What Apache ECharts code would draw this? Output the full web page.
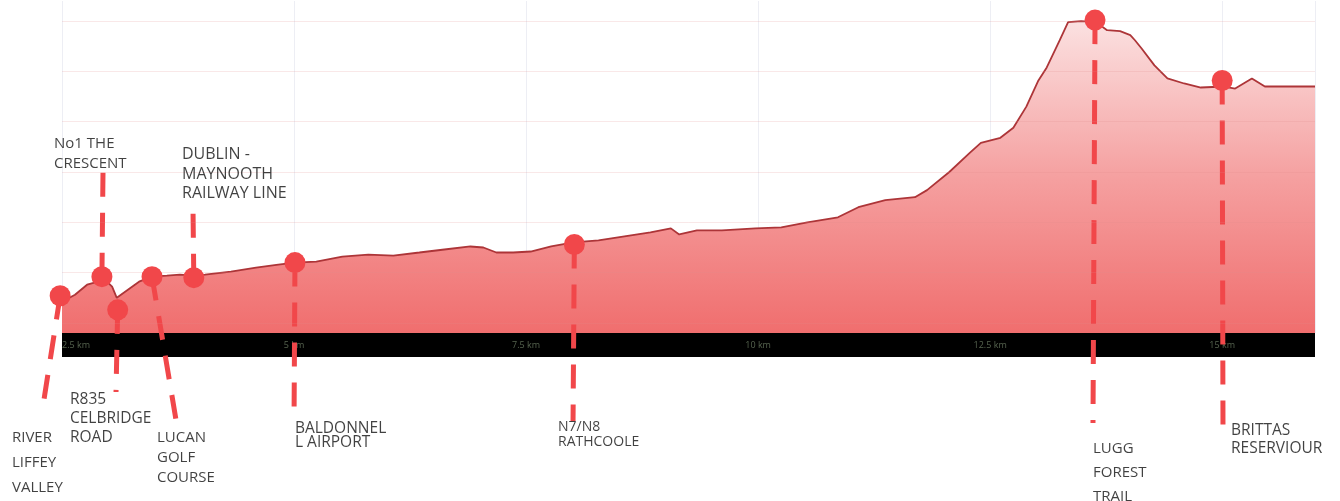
<!DOCTYPE html>
<html>
<head>
<meta charset="utf-8">
<script src="https://cdn.jsdelivr.net/npm/echarts@6/dist/echarts.min.js"></script>
<style>
html,body{margin:0;padding:0;background:#fff;}
#chart{width:1340px;height:501px;}
</style>
</head>
<body>
<div id="chart"></div>
<script>
// ---- data ----
const DIST = [2.50,2.64,2.77,2.85,2.94,3.04,3.09,3.21,3.33,3.47,3.63,3.77,3.92,4.04,4.32,4.59,4.83,5.01,5.24,5.52,5.80,6.07,6.35,6.62,6.90,7.04,7.18,7.36,7.55,7.77,8.01,8.28,8.56,8.84,9.06,9.15,9.34,9.61,9.97,10.25,10.53,10.86,11.08,11.37,11.69,11.82,12.06,12.28,12.40,12.61,12.75,12.89,13.02,13.11,13.25,13.34,13.48,13.64,13.76,13.90,14.01,14.06,14.13,14.27,14.41,14.59,14.77,15.02,15.14,15.32,15.46,16.00];
const ELEV = [31,38,48,50,55,46,35,43,51,56,57,58,57,58,61,65,68,70,71,76,78,77,80,83,86,85,80,80,81,86,90,92,96,100,104,98,102,102,104,105,110,115,125,132,135,142,160,179,189,194,204,225,251,264,291,309,310,309,301,300,296,291,283,266,253,248,244,245,243,253,245,245];

const LANDMARK_NAMES = ['RIVER\nLIFFEY\nVALLEY','No1 THE\nCRESCENT','R835\nCELBRIDGE\nROAD','LUCAN\nGOLF\nCOURSE','DUBLIN -\nMAYNOOTH\nRAILWAY LINE','BALDONNEL\nL AIRPORT','N7/N8\nRATHCOOLE','LUGG\nFOREST\nTRAIL','BRITTAS\nRESERVIOUR'];
const LANDMARK_DIST = [2.48,2.93,3.10,3.47,3.92,5.01,8.02,13.63,15.00];
const LANDMARK_ELEV = [37,56,23,56,55,70,88,311,251];

const X_TICKS = [2.5,5,7.5,10,12.5,15];
const X_TICK_LABELS = ['2.5 km','5 km','7.5 km','10 km','12.5 km','15 km'];
const GRID_VALUES = [10,60,110,160,210,260,310];

// ---- annotation layout (axis units) ----
const CONNECTOR_END = [[2.285,-78.5],[2.942,162],[3.082,-58.6],[3.750,-98.4],[3.911,127.2],[5.0,-86.5],[8.006,-87.5],[13.608,-89.5],[15.009,-106.4]];
const LABEL_ANCHOR = [[1.961,-91.45],[2.414,197.8],[2.586,-57.15],[3.5235,-94.43],[3.793,186.87],[5.010,-87.97],[7.844,-86.48],[13.608,-102.88],[15.095,-87.47]];
const LABEL_LINE_HEIGHT = [25,20,19,20,19.5,14,14.5,24,18.5];
const LABEL_FONT_SIZE = [15,15,15.5,15,16,15.5,14,15,15.5];

const RED = '#f1474a';
const chart = echarts.init(document.getElementById('chart'), null, {renderer:'canvas'});

chart.setOption({
  animation:false,
  backgroundColor:'#ffffff',
  grid:{left:62,right:25,top:1,bottom:168,containLabel:false},
  xAxis:{
    type:'value', min:2.5, max:16.0, interval:2.5, offset:12, z:1,
    axisLine:{show:true,onZero:false,lineStyle:{color:'#000',width:24,cap:'butt'}},
    axisTick:{show:false},
    axisLabel:{
      margin:0, verticalAlign:'middle', color:'#56634f', fontSize:9,
      fontFamily:'Open Sans', alignMinLabel:'left',
      formatter:function(v){const i=X_TICKS.indexOf(v);return i>=0?X_TICK_LABELS[i]:'';}
    },
    splitLine:{show:true,lineStyle:{color:'rgba(190,195,215,0.28)',width:1}}
  },
  yAxis:{type:'value',min:0,max:330,show:false},
  series:[
    {
      type:'line', name:'elevation', z:2,
      data:DIST.map((d,i)=>[d,ELEV[i]]),
      symbol:'none', smooth:false,
      lineStyle:{color:'#ad3538',width:1.8},
      areaStyle:{
        opacity:1,
        color:new echarts.graphic.LinearGradient(0,0,0,1,[
          {offset:0,color:'#fbe1e1'},
          {offset:0.5,color:'#f5a0a0'},
          {offset:1,color:'#f06e6e'}
        ])
      },
      markLine:{
        silent:true, symbol:'none', label:{show:false},
        lineStyle:{color:'rgba(225,140,140,0.2)',type:'solid',width:1},
        data:GRID_VALUES.map(v=>({yAxis:v}))
      }
    },
    {
      type:'lines', coordinateSystem:'cartesian2d', z:4, silent:true, clip:false,
      lineStyle:{color:RED,width:5,type:[24,16],opacity:1,curveness:0},
      data:LANDMARK_DIST.map((d,i)=>({coords:[[d,LANDMARK_ELEV[i]],CONNECTOR_END[i]]}))
    },
    {
      type:'scatter', z:5, silent:true, clip:false,
      symbol:'circle', symbolSize:21,
      itemStyle:{color:RED,opacity:1},
      data:LANDMARK_DIST.map((d,i)=>[d,LANDMARK_ELEV[i]])
    },
    {
      type:'scatter', z:6, silent:true, clip:false,
      symbolSize:0, itemStyle:{color:'transparent'},
      label:{
        show:true, position:[0,0], align:'left', verticalAlign:'top',
        fontFamily:'Open Sans', fontSize:15, color:'#111111',
        formatter:function(p){return LANDMARK_NAMES[p.dataIndex];}
      },
      data:LABEL_ANCHOR.map((a,i)=>({value:a,label:{lineHeight:LABEL_LINE_HEIGHT[i],fontSize:LABEL_FONT_SIZE[i]}}))
    }
  ]
});
</script>
</body>
</html>
